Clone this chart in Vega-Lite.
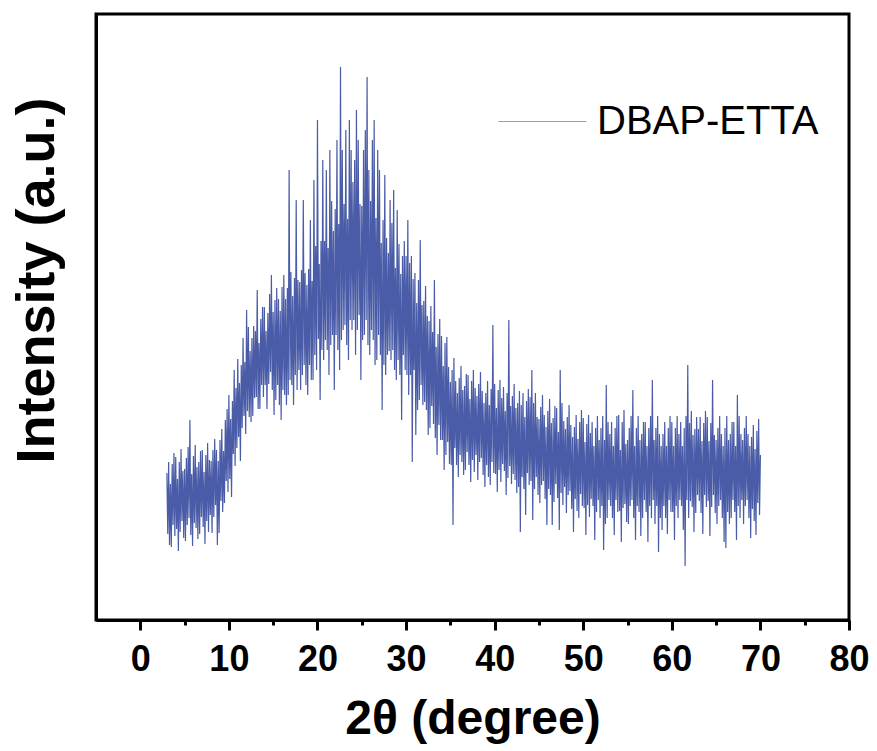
{
"$schema": "https://vega.github.io/schema/vega-lite/v6.json",
"width": 753, "height": 606,
"autosize": {"type": "none"},
"padding": {"left": 96, "top": 14, "right": 28, "bottom": 131},
"background": "white",
"config": {"font": "Liberation Sans", "view": {"stroke": "black", "strokeWidth": 3}},
"data": {"values": [
{"t":3.0,"i":147},{"t":3.1,"i":86},{"t":3.2,"i":158},{"t":3.3,"i":75},{"t":3.4,"i":136},{"t":3.5,"i":73},{"t":3.6,"i":156},{"t":3.7,"i":95},{"t":3.8,"i":167},{"t":3.9,"i":84},
{"t":4.0,"i":163},{"t":4.1,"i":91},{"t":4.2,"i":141},{"t":4.3,"i":69},{"t":4.4,"i":158},{"t":4.5,"i":88},{"t":4.6,"i":171},{"t":4.7,"i":99},{"t":4.8,"i":149},{"t":4.9,"i":82},
{"t":5.0,"i":151},{"t":5.1,"i":79},{"t":5.2,"i":162},{"t":5.3,"i":95},{"t":5.4,"i":173},{"t":5.5,"i":102},{"t":5.6,"i":200},{"t":5.7,"i":85},{"t":5.8,"i":146},{"t":5.9,"i":74},
{"t":6.0,"i":164},{"t":6.1,"i":97},{"t":6.2,"i":175},{"t":6.3,"i":92},{"t":6.4,"i":153},{"t":6.5,"i":81},{"t":6.6,"i":158},{"t":6.7,"i":86},{"t":6.8,"i":169},{"t":6.9,"i":103},
{"t":7.0,"i":170},{"t":7.1,"i":93},{"t":7.2,"i":148},{"t":7.3,"i":76},{"t":7.4,"i":165},{"t":7.5,"i":99},{"t":7.6,"i":177},{"t":7.7,"i":88},{"t":7.8,"i":160},{"t":7.9,"i":105},
{"t":8.0,"i":159},{"t":8.1,"i":87},{"t":8.2,"i":170},{"t":8.3,"i":103},{"t":8.4,"i":181},{"t":8.5,"i":115},{"t":8.6,"i":170},{"t":8.7,"i":75},{"t":8.8,"i":159},{"t":8.9,"i":87},
{"t":9.0,"i":180},{"t":9.1,"i":119},{"t":9.2,"i":191},{"t":9.3,"i":108},{"t":9.4,"i":169},{"t":9.5,"i":117},{"t":9.6,"i":200},{"t":9.7,"i":139},{"t":9.8,"i":211},{"t":9.9,"i":128},
{"t":10.0,"i":225},{"t":10.1,"i":141},{"t":10.2,"i":201},{"t":10.3,"i":123},{"t":10.4,"i":219},{"t":10.5,"i":166},{"t":10.6,"i":250},{"t":10.7,"i":154},{"t":10.8,"i":232},{"t":10.9,"i":172},
{"t":11.0,"i":261},{"t":11.1,"i":183},{"t":11.2,"i":237},{"t":11.3,"i":159},{"t":11.4,"i":255},{"t":11.5,"i":192},{"t":11.6,"i":282},{"t":11.7,"i":204},{"t":11.8,"i":258},{"t":11.9,"i":186},
{"t":12.0,"i":310},{"t":12.1,"i":209},{"t":12.2,"i":293},{"t":12.3,"i":203},{"t":12.4,"i":269},{"t":12.5,"i":198},{"t":12.6,"i":282},{"t":12.7,"i":204},{"t":12.8,"i":294},{"t":12.9,"i":222},
{"t":13.0,"i":289},{"t":13.1,"i":223},{"t":13.2,"i":330},{"t":13.3,"i":211},{"t":13.4,"i":277},{"t":13.5,"i":211},{"t":13.6,"i":301},{"t":13.7,"i":235},{"t":13.8,"i":313},{"t":13.9,"i":223},
{"t":14.0,"i":313},{"t":14.1,"i":235},{"t":14.2,"i":289},{"t":14.3,"i":211},{"t":14.4,"i":307},{"t":14.5,"i":236},{"t":14.6,"i":326},{"t":14.7,"i":248},{"t":14.8,"i":345},{"t":14.9,"i":230},
{"t":15.0,"i":308},{"t":15.1,"i":205},{"t":15.2,"i":320},{"t":15.3,"i":220},{"t":15.4,"i":332},{"t":15.5,"i":235},{"t":15.6,"i":321},{"t":15.7,"i":215},{"t":15.8,"i":309},{"t":15.9,"i":200},
{"t":16.0,"i":333},{"t":16.1,"i":230},{"t":16.2,"i":345},{"t":16.3,"i":225},{"t":16.4,"i":321},{"t":16.5,"i":215},{"t":16.6,"i":332},{"t":16.7,"i":225},{"t":16.8,"i":450},{"t":16.9,"i":240},
{"t":17.0,"i":348},{"t":17.1,"i":235},{"t":17.2,"i":324},{"t":17.3,"i":215},{"t":17.4,"i":342},{"t":17.5,"i":245},{"t":17.6,"i":420},{"t":17.7,"i":230},{"t":17.8,"i":340},{"t":17.9,"i":250},
{"t":18.0,"i":338},{"t":18.1,"i":230},{"t":18.2,"i":350},{"t":18.3,"i":245},{"t":18.4,"i":420},{"t":18.5,"i":255},{"t":18.6,"i":347},{"t":18.7,"i":235},{"t":18.8,"i":335},{"t":18.9,"i":225},
{"t":19.0,"i":351},{"t":19.1,"i":255},{"t":19.2,"i":400},{"t":19.3,"i":240},{"t":19.4,"i":339},{"t":19.5,"i":240},{"t":19.6,"i":440},{"t":19.7,"i":265},{"t":19.8,"i":374},{"t":19.9,"i":250},
{"t":20.0,"i":500},{"t":20.1,"i":281},{"t":20.2,"i":356},{"t":20.3,"i":220},{"t":20.4,"i":379},{"t":20.5,"i":270},{"t":20.6,"i":460},{"t":20.7,"i":260},{"t":20.8,"i":379},{"t":20.9,"i":280},
{"t":21.0,"i":450},{"t":21.1,"i":270},{"t":21.2,"i":372},{"t":21.3,"i":245},{"t":21.4,"i":470},{"t":21.5,"i":275},{"t":21.6,"i":419},{"t":21.7,"i":285},{"t":21.8,"i":389},{"t":21.9,"i":230},
{"t":22.0,"i":411},{"t":22.1,"i":285},{"t":22.2,"i":480},{"t":22.3,"i":270},{"t":22.4,"i":396},{"t":22.5,"i":250},{"t":22.6,"i":553},{"t":22.7,"i":280},{"t":22.8,"i":470},{"t":22.9,"i":290},
{"t":23.0,"i":416},{"t":23.1,"i":295},{"t":23.2,"i":490},{"t":23.3,"i":275},{"t":23.4,"i":401},{"t":23.5,"i":260},{"t":23.6,"i":500},{"t":23.7,"i":300},{"t":23.8,"i":470},{"t":23.9,"i":290},
{"t":24.0,"i":438},{"t":24.1,"i":300},{"t":24.2,"i":460},{"t":24.3,"i":265},{"t":24.4,"i":510},{"t":24.5,"i":290},{"t":24.6,"i":480},{"t":24.7,"i":305},{"t":24.8,"i":416},{"t":24.9,"i":240},
{"t":25.0,"i":414},{"t":25.1,"i":280},{"t":25.2,"i":470},{"t":25.3,"i":285},{"t":25.4,"i":490},{"t":25.5,"i":300},{"t":25.6,"i":543},{"t":25.7,"i":275},{"t":25.8,"i":450},{"t":25.9,"i":265},
{"t":26.0,"i":419},{"t":26.1,"i":290},{"t":26.2,"i":480},{"t":26.3,"i":280},{"t":26.4,"i":500},{"t":26.5,"i":255},{"t":26.6,"i":402},{"t":26.7,"i":260},{"t":26.8,"i":470},{"t":26.9,"i":285},
{"t":27.0,"i":450},{"t":27.1,"i":265},{"t":27.2,"i":377},{"t":27.3,"i":210},{"t":27.4,"i":400},{"t":27.5,"i":255},{"t":27.6,"i":445},{"t":27.7,"i":245},{"t":27.8,"i":382},{"t":27.9,"i":265},
{"t":28.0,"i":367},{"t":28.1,"i":269},{"t":28.2,"i":420},{"t":28.3,"i":260},{"t":28.4,"i":397},{"t":28.5,"i":270},{"t":28.6,"i":430},{"t":28.7,"i":250},{"t":28.8,"i":352},{"t":28.9,"i":240},
{"t":29.0,"i":410},{"t":29.1,"i":260},{"t":29.2,"i":376},{"t":29.3,"i":245},{"t":29.4,"i":346},{"t":29.5,"i":200},{"t":29.6,"i":364},{"t":29.7,"i":265},{"t":29.8,"i":379},{"t":29.9,"i":250},
{"t":30.0,"i":364},{"t":30.1,"i":245},{"t":30.2,"i":400},{"t":30.3,"i":225},{"t":30.4,"i":357},{"t":30.5,"i":245},{"t":30.6,"i":364},{"t":30.7,"i":158},{"t":30.8,"i":341},{"t":30.9,"i":250},
{"t":31.0,"i":347},{"t":31.1,"i":185},{"t":31.2,"i":317},{"t":31.3,"i":210},{"t":31.4,"i":340},{"t":31.5,"i":220},{"t":31.6,"i":380},{"t":31.7,"i":235},{"t":31.8,"i":315},{"t":31.9,"i":215},
{"t":32.0,"i":319},{"t":32.1,"i":218},{"t":32.2,"i":334},{"t":32.3,"i":210},{"t":32.4,"i":304},{"t":32.5,"i":185},{"t":32.6,"i":299},{"t":32.7,"i":192},{"t":32.8,"i":314},{"t":32.9,"i":214},
{"t":33.0,"i":288},{"t":33.1,"i":196},{"t":33.2,"i":340},{"t":33.3,"i":182},{"t":33.4,"i":273},{"t":33.5,"i":165},{"t":33.6,"i":286},{"t":33.7,"i":195},{"t":33.8,"i":301},{"t":33.9,"i":180},
{"t":34.0,"i":284},{"t":34.1,"i":180},{"t":34.2,"i":254},{"t":34.3,"i":150},{"t":34.4,"i":277},{"t":34.5,"i":165},{"t":34.6,"i":283},{"t":34.7,"i":178},{"t":34.8,"i":253},{"t":34.9,"i":156},
{"t":35.0,"i":238},{"t":35.1,"i":155},{"t":35.2,"i":250},{"t":35.3,"i":95},{"t":35.4,"i":262},{"t":35.5,"i":172},{"t":35.6,"i":239},{"t":35.7,"i":155},{"t":35.8,"i":227},{"t":35.9,"i":143},
{"t":36.0,"i":242},{"t":36.1,"i":165},{"t":36.2,"i":254},{"t":36.3,"i":158},{"t":36.4,"i":230},{"t":36.5,"i":145},{"t":36.6,"i":234},{"t":36.7,"i":150},{"t":36.8,"i":246},{"t":36.9,"i":168},
{"t":37.0,"i":245},{"t":37.1,"i":155},{"t":37.2,"i":221},{"t":37.3,"i":138},{"t":37.4,"i":239},{"t":37.5,"i":160},{"t":37.6,"i":250},{"t":37.7,"i":148},{"t":37.8,"i":232},{"t":37.9,"i":165},
{"t":38.0,"i":224},{"t":38.1,"i":140},{"t":38.2,"i":236},{"t":38.3,"i":158},{"t":38.4,"i":248},{"t":38.5,"i":162},{"t":38.6,"i":229},{"t":38.7,"i":145},{"t":38.8,"i":217},{"t":38.9,"i":133},
{"t":39.0,"i":227},{"t":39.1,"i":155},{"t":39.2,"i":239},{"t":39.3,"i":143},{"t":39.4,"i":215},{"t":39.5,"i":135},{"t":39.6,"i":231},{"t":39.7,"i":158},{"t":39.8,"i":295},{"t":39.9,"i":147},
{"t":40.0,"i":236},{"t":40.1,"i":146},{"t":40.2,"i":212},{"t":40.3,"i":128},{"t":40.4,"i":230},{"t":40.5,"i":150},{"t":40.6,"i":240},{"t":40.7,"i":138},{"t":40.8,"i":222},{"t":40.9,"i":156},
{"t":41.0,"i":233},{"t":41.1,"i":149},{"t":41.2,"i":209},{"t":41.3,"i":125},{"t":41.4,"i":227},{"t":41.5,"i":142},{"t":41.6,"i":300},{"t":41.7,"i":154},{"t":41.8,"i":214},{"t":41.9,"i":136},
{"t":42.0,"i":224},{"t":42.1,"i":146},{"t":42.2,"i":236},{"t":42.3,"i":140},{"t":42.4,"i":212},{"t":42.5,"i":127},{"t":42.6,"i":217},{"t":42.7,"i":133},{"t":42.8,"i":229},{"t":42.9,"i":88},
{"t":43.0,"i":215},{"t":43.1,"i":143},{"t":43.2,"i":227},{"t":43.3,"i":131},{"t":43.4,"i":203},{"t":43.5,"i":105},{"t":43.6,"i":219},{"t":43.7,"i":147},{"t":43.8,"i":231},{"t":43.9,"i":135},
{"t":44.0,"i":223},{"t":44.1,"i":139},{"t":44.2,"i":250},{"t":44.3,"i":100},{"t":44.4,"i":217},{"t":44.5,"i":131},{"t":44.6,"i":227},{"t":44.7,"i":143},{"t":44.8,"i":203},{"t":44.9,"i":125},
{"t":45.0,"i":201},{"t":45.1,"i":117},{"t":45.2,"i":213},{"t":45.3,"i":135},{"t":45.4,"i":225},{"t":45.5,"i":139},{"t":45.6,"i":205},{"t":45.7,"i":121},{"t":45.8,"i":193},{"t":45.9,"i":95},
{"t":46.0,"i":209},{"t":46.1,"i":131},{"t":46.2,"i":221},{"t":46.3,"i":125},{"t":46.4,"i":197},{"t":46.5,"i":95},{"t":46.6,"i":202},{"t":46.7,"i":118},{"t":46.8,"i":214},{"t":46.9,"i":136},
{"t":47.0,"i":212},{"t":47.1,"i":122},{"t":47.2,"i":188},{"t":47.3,"i":90},{"t":47.4,"i":250},{"t":47.5,"i":127},{"t":47.6,"i":217},{"t":47.7,"i":115},{"t":47.8,"i":199},{"t":47.9,"i":133},
{"t":48.0,"i":191},{"t":48.1,"i":107},{"t":48.2,"i":203},{"t":48.3,"i":125},{"t":48.4,"i":215},{"t":48.5,"i":129},{"t":48.6,"i":195},{"t":48.7,"i":111},{"t":48.8,"i":183},{"t":48.9,"i":88},
{"t":49.0,"i":193},{"t":49.1,"i":121},{"t":49.2,"i":205},{"t":49.3,"i":109},{"t":49.4,"i":181},{"t":49.5,"i":102},{"t":49.6,"i":198},{"t":49.7,"i":126},{"t":49.8,"i":210},{"t":49.9,"i":114},
{"t":50.0,"i":202},{"t":50.1,"i":112},{"t":50.2,"i":178},{"t":50.3,"i":85},{"t":50.4,"i":196},{"t":50.5,"i":115},{"t":50.6,"i":205},{"t":50.7,"i":103},{"t":50.8,"i":187},{"t":50.9,"i":121},
{"t":51.0,"i":198},{"t":51.1,"i":114},{"t":51.2,"i":174},{"t":51.3,"i":80},{"t":51.4,"i":192},{"t":51.5,"i":108},{"t":51.6,"i":204},{"t":51.7,"i":120},{"t":51.8,"i":180},{"t":51.9,"i":102},
{"t":52.0,"i":192},{"t":52.1,"i":114},{"t":52.2,"i":204},{"t":52.3,"i":70},{"t":52.4,"i":180},{"t":52.5,"i":96},{"t":52.6,"i":235},{"t":52.7,"i":102},{"t":52.8,"i":198},{"t":52.9,"i":120},
{"t":53.0,"i":186},{"t":53.1,"i":114},{"t":53.2,"i":198},{"t":53.3,"i":102},{"t":53.4,"i":174},{"t":53.5,"i":85},{"t":53.6,"i":192},{"t":53.7,"i":120},{"t":53.8,"i":204},{"t":53.9,"i":108},
{"t":54.0,"i":205},{"t":54.1,"i":109},{"t":54.2,"i":170},{"t":54.3,"i":78},{"t":54.4,"i":198},{"t":54.5,"i":112},{"t":54.6,"i":210},{"t":54.7,"i":116},{"t":54.8,"i":176},{"t":54.9,"i":98},
{"t":55.0,"i":180},{"t":55.1,"i":96},{"t":55.2,"i":192},{"t":55.3,"i":114},{"t":55.4,"i":204},{"t":55.5,"i":120},{"t":55.6,"i":230},{"t":55.7,"i":102},{"t":55.8,"i":174},{"t":55.9,"i":80},
{"t":56.0,"i":192},{"t":56.1,"i":114},{"t":56.2,"i":204},{"t":56.3,"i":108},{"t":56.4,"i":180},{"t":56.5,"i":84},{"t":56.6,"i":186},{"t":56.7,"i":102},{"t":56.8,"i":198},{"t":56.9,"i":120},
{"t":57.0,"i":198},{"t":57.1,"i":108},{"t":57.2,"i":174},{"t":57.3,"i":78},{"t":57.4,"i":192},{"t":57.5,"i":114},{"t":57.6,"i":204},{"t":57.7,"i":102},{"t":57.8,"i":240},{"t":57.9,"i":120},
{"t":58.0,"i":180},{"t":58.1,"i":96},{"t":58.2,"i":192},{"t":58.3,"i":114},{"t":58.4,"i":204},{"t":58.5,"i":68},{"t":58.6,"i":186},{"t":58.7,"i":102},{"t":58.8,"i":174},{"t":58.9,"i":90},
{"t":59.0,"i":186},{"t":59.1,"i":114},{"t":59.2,"i":198},{"t":59.3,"i":102},{"t":59.4,"i":174},{"t":59.5,"i":86},{"t":59.6,"i":192},{"t":59.7,"i":120},{"t":59.8,"i":204},{"t":59.9,"i":108},
{"t":60.0,"i":198},{"t":60.1,"i":108},{"t":60.2,"i":174},{"t":60.3,"i":80},{"t":60.4,"i":192},{"t":60.5,"i":114},{"t":60.6,"i":204},{"t":60.7,"i":102},{"t":60.8,"i":186},{"t":60.9,"i":120},
{"t":61.0,"i":198},{"t":61.1,"i":114},{"t":61.2,"i":174},{"t":61.3,"i":90},{"t":61.4,"i":192},{"t":61.5,"i":54},{"t":61.6,"i":204},{"t":61.7,"i":120},{"t":61.8,"i":255},{"t":61.9,"i":102},
{"t":62.0,"i":197},{"t":62.1,"i":119},{"t":62.2,"i":209},{"t":62.3,"i":113},{"t":62.4,"i":185},{"t":62.5,"i":88},{"t":62.6,"i":191},{"t":62.7,"i":107},{"t":62.8,"i":203},{"t":62.9,"i":125},
{"t":63.0,"i":191},{"t":63.1,"i":119},{"t":63.2,"i":203},{"t":63.3,"i":107},{"t":63.4,"i":179},{"t":63.5,"i":86},{"t":63.6,"i":197},{"t":63.7,"i":125},{"t":63.8,"i":209},{"t":63.9,"i":113},
{"t":64.0,"i":203},{"t":64.1,"i":119},{"t":64.2,"i":179},{"t":64.3,"i":84},{"t":64.4,"i":197},{"t":64.5,"i":113},{"t":64.6,"i":240},{"t":64.7,"i":125},{"t":64.8,"i":185},{"t":64.9,"i":107},
{"t":65.0,"i":180},{"t":65.1,"i":96},{"t":65.2,"i":192},{"t":65.3,"i":114},{"t":65.4,"i":204},{"t":65.5,"i":120},{"t":65.6,"i":186},{"t":65.7,"i":102},{"t":65.8,"i":174},{"t":65.9,"i":78},
{"t":66.0,"i":192},{"t":66.1,"i":72},{"t":66.2,"i":204},{"t":66.3,"i":108},{"t":66.4,"i":180},{"t":66.5,"i":96},{"t":66.6,"i":186},{"t":66.7,"i":102},{"t":66.8,"i":198},{"t":66.9,"i":120},
{"t":67.0,"i":198},{"t":67.1,"i":108},{"t":67.2,"i":174},{"t":67.3,"i":80},{"t":67.4,"i":225},{"t":67.5,"i":114},{"t":67.6,"i":204},{"t":67.7,"i":102},{"t":67.8,"i":186},{"t":67.9,"i":120},
{"t":68.0,"i":180},{"t":68.1,"i":96},{"t":68.2,"i":192},{"t":68.3,"i":114},{"t":68.4,"i":204},{"t":68.5,"i":120},{"t":68.6,"i":186},{"t":68.7,"i":102},{"t":68.8,"i":174},{"t":68.9,"i":82},
{"t":69.0,"i":183},{"t":69.1,"i":111},{"t":69.2,"i":195},{"t":69.3,"i":99},{"t":69.4,"i":171},{"t":69.5,"i":85},{"t":69.6,"i":189},{"t":69.7,"i":117},{"t":69.8,"i":201},{"t":69.9,"i":105},
{"t":70.0,"i":165}
]},
"encoding": {
  "y": {"field": "i", "type": "quantitative",
    "scale": {"domain": [0, 606], "nice": false, "zero": false},
    "axis": {"title": "Intensity (a.u.)", "titleFontSize": 54, "titleFontWeight": "bold", "titleColor": "black",
      "labels": false, "ticks": false, "grid": false, "domainColor": "black", "domainWidth": 3, "titlePadding": 32, "titleY": 266}}
},
"layer": [
  {"mark": {"type": "line", "strokeWidth": 1.2},
   "encoding": {
     "x": {"field": "t", "type": "quantitative",
       "scale": {"domain": [-5, 80], "nice": false, "zero": false},
       "axis": {"orient": "bottom", "values": [0, 10, 20, 30, 40, 50, 60, 70, 80], "title": "2θ (degree)",
         "titleFontSize": 48, "titleFontWeight": "bold", "titleColor": "black",
         "labelFontSize": 36, "labelFontWeight": "bold", "labelColor": "black", "labelFlush": false, "labelOverlap": false,
         "tickSize": 10, "tickWidth": 3, "tickColor": "black", "domainColor": "black", "domainWidth": 3,
         "grid": false, "labelPadding": 12, "titlePadding": 18}},
     "color": {"datum": "DBAP-ETTA", "scale": {"range": ["#4a5ca7"]},
       "legend": {"orient": "none", "legendX": 402, "legendY": 63, "title": null, "symbolType": "stroke",
         "symbolSize": 7744, "symbolStrokeWidth": 1, "symbolOpacity": 0.6, "labelFontSize": 40, "labelLimit": 0,
         "labelColor": "black", "labelOffset": 10, "padding": 0}}
   }},
  {"mark": {"type": "point", "opacity": 0},
   "encoding": {
     "x": {"field": "t", "type": "quantitative",
       "axis": {"orient": "bottom", "values": [5, 15, 25, 35, 45, 55, 65, 75], "labels": false, "title": null,
         "tickSize": 5, "tickWidth": 3, "tickColor": "black", "domain": false, "grid": false}}
   }}
],
"resolve": {"axis": {"x": "independent"}}
}
